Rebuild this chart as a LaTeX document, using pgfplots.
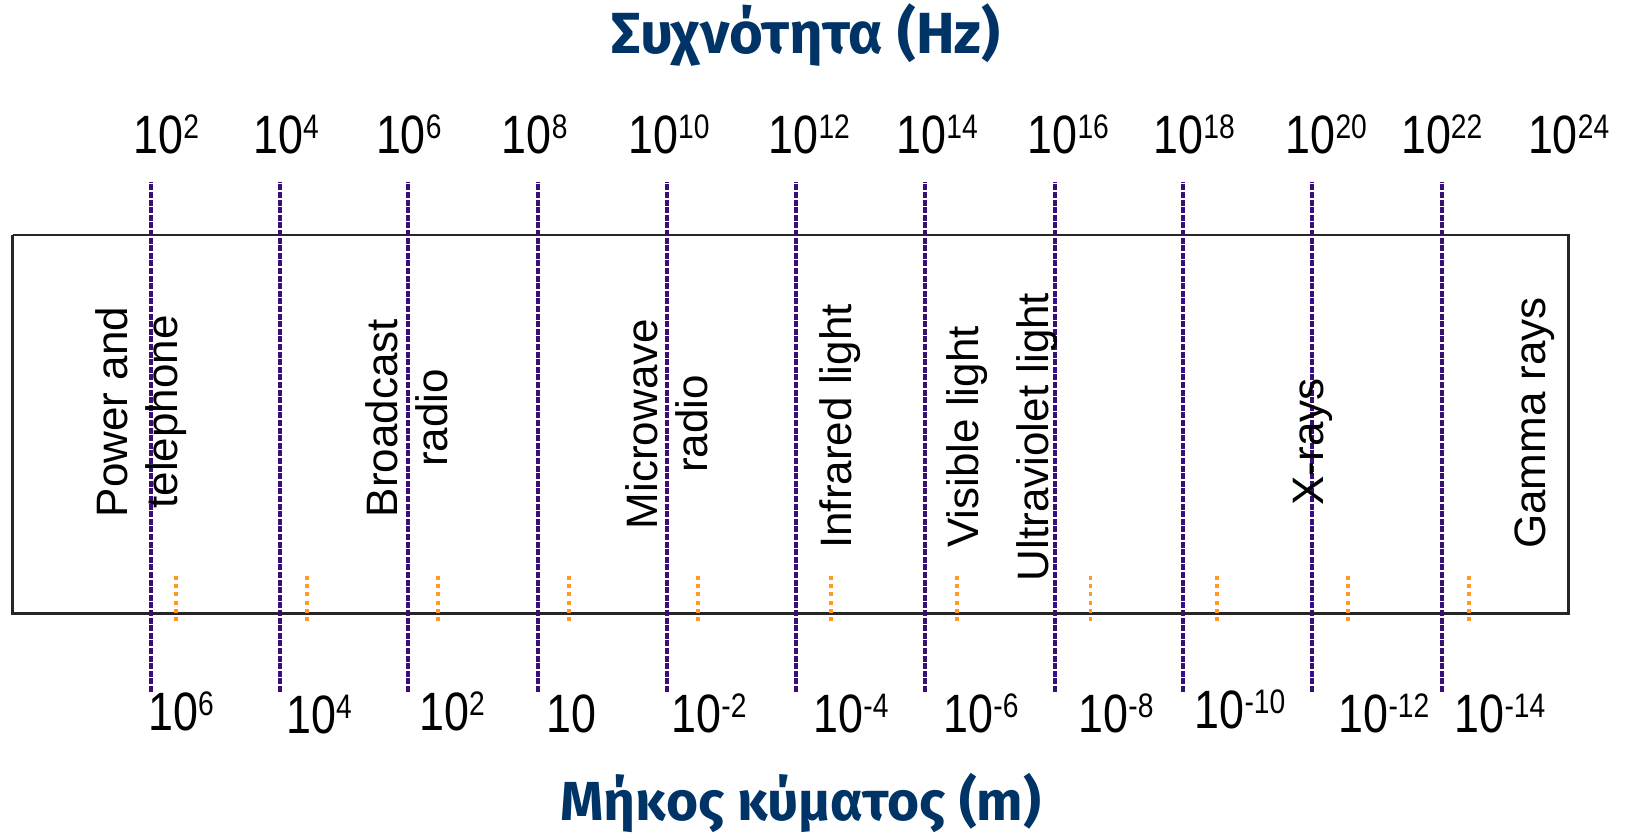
\documentclass[border=0pt]{standalone}
\usepackage{fontspec}
\setmainfont{Liberation Sans}
\newfontfamily\titlefont{Fira Sans}
\usepackage{pgfplots}
\pgfplotsset{compat=1.18}
\definecolor{titleblue}{RGB}{0,51,102}
\definecolor{linepurple}{RGB}{58,14,120}
\definecolor{dotorange}{RGB}{255,153,32}
\newcommand{\tp}[1]{10\raisebox{7.5pt}{\fontsize{17pt}{17pt}\selectfont #1}}
\begin{document}
\begin{tikzpicture}
\begin{axis}[width=815.5pt,height=418.5pt,scale only axis,
  xmin=0,xmax=1631,ymin=0,ymax=837,hide axis,clip=false]
\addplot[draw=none] coordinates {(0,0) (1631,837)};
% frame
\addplot[black!85,line width=1.3pt] coordinates {(12.5,602) (1568.6,602) (1568.6,223.3) (12.5,223.3) (12.5,602)};
% purple dashed lines (band boundaries)
\pgfplotsinvokeforeach{150.8,279.8,407.8,537.8,666.8,795.8,924.8,1054.8,1182.7,1311.7,1441.7}{
  \addplot[linepurple,line width=2.2pt,dash pattern=on 3pt off 0.8pt] coordinates {(#1,145) (#1,655)};
}
% orange dotted ticks
\pgfplotsinvokeforeach{175.7,307,438,569,697.7,830.7,956.9,1090.4,1217,1348,1468.8}{
  \addplot[dotorange,line width=1.8pt,dash pattern=on 2pt off 2.1pt] coordinates {(#1,216) (#1,265)};
}
% titles
\node[anchor=base,text=titleblue,font={\titlefont\bfseries\fontsize{29pt}{30pt}\selectfont}] at (axis cs:806,783) {Συχνότητα (Hz)};
\node[anchor=base,text=titleblue,font={\titlefont\bfseries\fontsize{27.5pt}{30pt}\selectfont}] at (axis cs:801,17) {Μήκος κύματος (m)};
% band labels
\begin{scope}[every node/.style={rotate=90,align=center,font={\fontsize{22pt}{25pt}\selectfont}}]
\node at (axis cs:141.5,425) {Power and\\telephone};
\node at (axis cs:406.7,419) {Broadcast\\radio};
\node at (axis cs:666.8,413) {Microwave\\radio};
\node at (axis cs:840.5,410.5) {Infrared light};
\node at (axis cs:967.4,400) {Visible light};
\node at (axis cs:1037,400) {Ultraviolet light};
\node at (axis cs:1312.7,395) {X-rays};
\node at (axis cs:1534.3,414) {Gamma rays};
\end{scope}
% frequency labels (top)
\begin{scope}[every node/.style={anchor=base,xscale=0.83,font={\fontsize{27pt}{27pt}\selectfont}}]
\node at (axis cs:166.4,683) {\tp{2}};
\node at (axis cs:286,683) {\tp{4}};
\node at (axis cs:408.8,683) {\tp{6}};
\node at (axis cs:534.7,683) {\tp{8}};
\node at (axis cs:668.9,683) {\tp{10}};
\node at (axis cs:809.3,683) {\tp{12}};
\node at (axis cs:937.2,683) {\tp{14}};
\node at (axis cs:1068.3,683) {\tp{16}};
\node at (axis cs:1194.2,683) {\tp{18}};
\node at (axis cs:1326.3,683) {\tp{20}};
\node at (axis cs:1441.7,683) {\tp{22}};
\node at (axis cs:1568.6,683) {\tp{24}};
% wavelength labels (bottom)
\node at (axis cs:181,107) {\tp{6}};
\node at (axis cs:319,104) {\tp{4}};
\node at (axis cs:452,107) {\tp{2}};
\node at (axis cs:571,105) {10};
\node at (axis cs:709,105) {\tp{-2}};
\node at (axis cs:851,105) {\tp{-4}};
\node at (axis cs:981,105) {\tp{-6}};
\node at (axis cs:1116,105) {\tp{-8}};
\node at (axis cs:1240,109) {\tp{-10}};
\node at (axis cs:1384,105) {\tp{-12}};
\node at (axis cs:1500,105) {\tp{-14}};
\end{scope}
\end{axis}
\pgfresetboundingbox
\path (current axis.south west) rectangle (current axis.north east);
\end{tikzpicture}
\end{document}
